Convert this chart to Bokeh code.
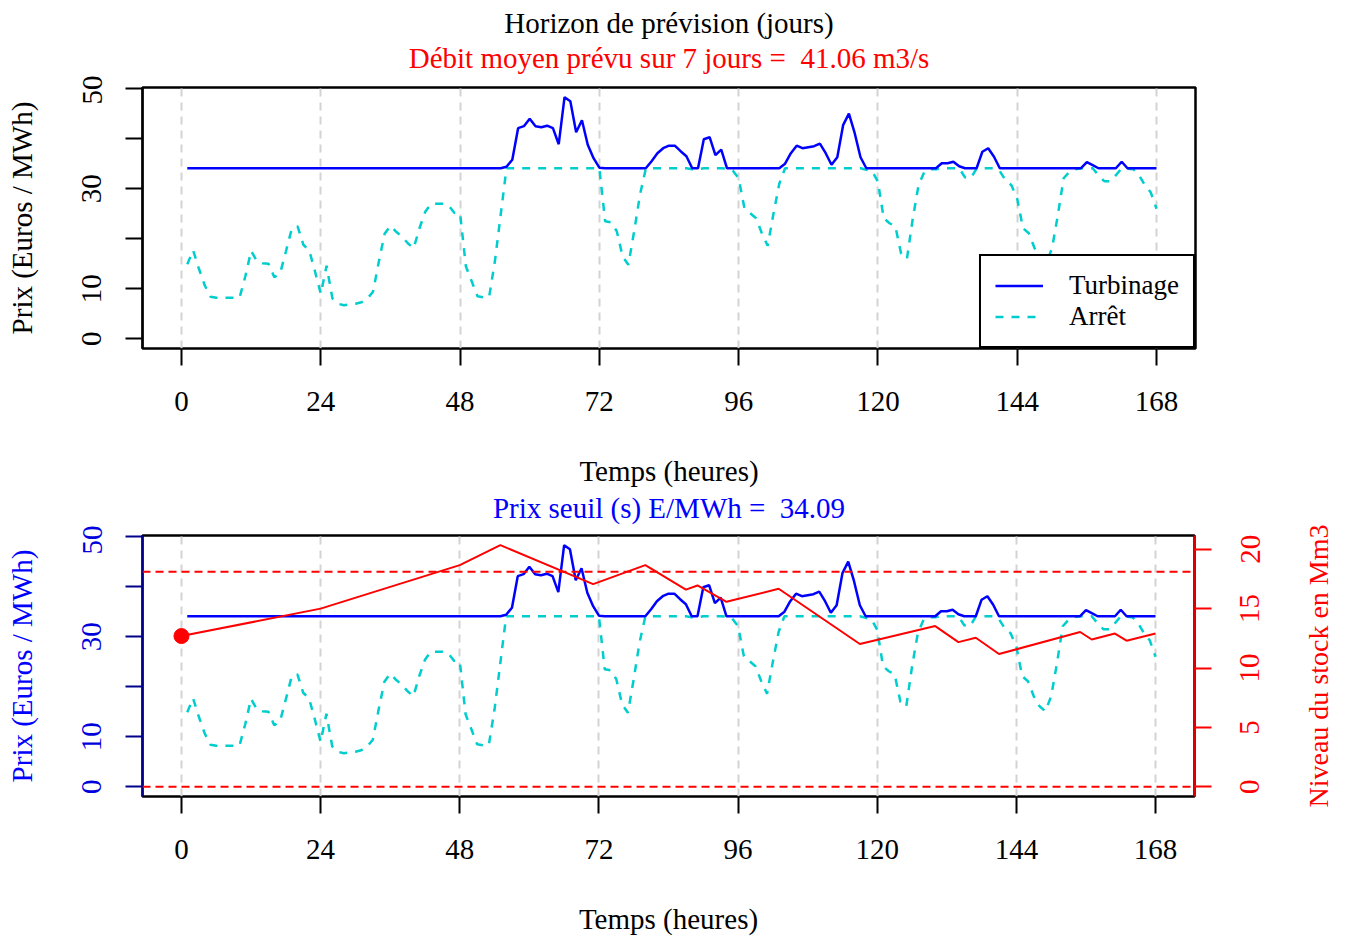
import numpy as np
from bokeh.plotting import figure
from bokeh.models import (Range1d, LinearAxis, Legend, LegendItem, FixedTicker, Span, Title,
                          CustomLabelingPolicy)
from bokeh.core.properties import value
from bokeh.layouts import column, row
from bokeh.embed import file_html
from bokeh.resources import INLINE

# ---------------- data ----------------
hours = list(range(1, 169))
price = [
    14.9, 17.7, 14.0, 10.7, 8.4, 8.2, 8.2, 8.2, 8.2, 8.2,
    12.5, 17.6, 15.5, 15.1, 15.0, 12.3, 13.1, 17.5, 22.0, 22.5,
    18.8, 17.7, 13.5, 9.0, 14.6, 8.1, 7.0, 6.7, 6.9, 7.0,
    7.3, 8.0, 9.4, 15.4, 21.0, 22.6, 21.4, 20.4, 19.1, 18.1,
    22.1, 25.4, 27.0, 27.0, 27.0, 26.7, 25.2, 25.1, 14.5, 11.5,
    8.5, 8.3, 8.3, 15.5, 24.8, 34.4, 35.8, 42.1, 42.5, 44.0,
    42.5, 42.3, 42.6, 42.1, 38.9, 48.3, 47.5, 41.3, 43.7, 38.8,
    36.1, 34.2, 23.5, 23.3, 21.5, 16.5, 14.8, 21.5, 28.8, 34.0,
    35.5, 37.1, 38.1, 38.6, 38.6, 37.5, 36.5, 33.9, 33.9, 39.9,
    40.3, 36.7, 37.8, 34.0, 33.6, 32.1, 26.1, 25.1, 24.1, 21.1,
    18.6, 25.0, 31.0, 35.0, 37.1, 38.6, 38.1, 38.3, 38.5, 39.0,
    37.1, 34.8, 36.3, 42.7, 45.0, 41.1, 36.3, 33.8, 33.5, 31.4,
    24.1, 23.1, 22.5, 17.0, 16.0, 24.0, 30.7, 33.4, 33.9, 33.9,
    35.1, 35.1, 35.4, 34.5, 32.3, 32.1, 34.0, 37.4, 38.1, 36.4,
    33.5, 31.7, 30.7, 28.0, 22.1, 21.1, 18.1, 16.1, 15.1, 18.1,
    24.7, 32.1, 33.4, 33.9, 34.1, 35.3, 34.7, 32.7, 31.5, 31.5,
    32.7, 35.4, 34.0, 33.9, 32.7, 30.7, 29.3, 26.0,
]
threshold = 34.09
debit_moyen = 41.06

stock_hours = [0, 24, 48, 55, 71, 80, 87, 89, 94, 103, 117, 130, 134, 137, 141, 155, 157, 161, 163, 168]
stock_level = [12.69, 15.0, 18.66, 20.34, 17.06, 18.66, 16.6, 16.95, 15.57, 16.67,
               12.02, 13.53, 12.18, 12.55, 11.18, 13.03, 12.4, 12.9, 12.3, 12.9]
stock_upper = 18.1
stock_lower = 0.0

x_ticks = [0, 24, 48, 72, 96, 120, 144, 168]
price_ticks = [0, 10, 20, 30, 40, 50]
price_ticks_labelled = [0, 10, 30, 50]
stock_ticks = [0, 5, 10, 15, 20]

title_top = "Horizon de prévision (jours)"
subtitle_top = "Débit moyen prévu sur 7 jours = \u00a0%.2f m3/s" % debit_moyen
subtitle_bottom = "Prix seuil (s) E/MWh = \u00a0%.2f" % threshold
xlab = "Temps (heures)"
ylab = "Prix (Euros / MWh)"
ylab2 = "Niveau du stock en Mm3"

turbinage = np.maximum(np.array(price), threshold)
arret = np.minimum(np.array(price), threshold)

# ---------------- layout ----------------
FONT = "Liberation Serif"
FS = "29px"
W = 1347
FRAME_L, FRAME_R = 142, 1195
HEAD_H = 75
TOP_H, TOP_FT, TOP_FH = 450, 12, 261
BOT_H, BOT_FT, BOT_FH = 412, 10, 262
BOT_FB = BOT_H - BOT_FT - BOT_FH
P2_W = 1215          # bottom plot width (right axis ticks only)
TICKS_W = 80         # side plot holding the stock tick labels
LAB_W = W - P2_W - TICKS_W  # side plot holding the stock axis label

x_lo, x_hi = -0.04 * 168, 168 * 1.04
p_max = max(price)
p_lo, p_hi = -0.04 * p_max, p_max * 1.04
s_max = max(stock_level)
s_lo, s_hi = -0.04 * s_max, s_max * 1.04

RED = "#FF0000"
BLUE = "#0000FF"

keep_idx = [price_ticks.index(t) for t in price_ticks_labelled]
price_label_policy = dict(args={}, code="""
    const keep = %s;
    const result = new Set();
    for (const i of indices) { if (keep.includes(i)) result.add(i); }
    return result;
""" % keep_idx)


def base_fig(width, height, ftop, fh):
    p = figure(width=width, height=height, x_range=Range1d(x_lo, x_hi), y_range=Range1d(p_lo, p_hi),
               output_backend="svg", toolbar_location=None, title=None,
               min_border_left=FRAME_L, min_border_right=width - FRAME_R,
               min_border_top=ftop, min_border_bottom=height - ftop - fh)
    p.outline_line_color = "black"
    p.outline_line_width = 2.5
    p.outline_line_alpha = 1.0
    p.background_fill_color = "white"
    p.border_fill_color = "white"
    p.ygrid.grid_line_color = None
    p.xgrid.grid_line_color = "#D3D3D3"
    p.xgrid.grid_line_width = 2
    p.xgrid.grid_line_dash = "8 6"
    xa = p.xaxis[0]
    xa.ticker = FixedTicker(ticks=x_ticks)
    xa.axis_line_color = None
    xa.major_tick_out = 17
    xa.major_tick_in = 0
    xa.minor_tick_line_color = None
    xa.major_tick_line_width = 2
    xa.major_tick_line_color = "black"
    xa.major_label_text_font = FONT
    xa.major_label_text_font_size = FS
    xa.major_label_text_color = "black"
    xa.major_label_standoff = 26
    xa.axis_label = xlab
    xa.axis_label_text_font = FONT
    xa.axis_label_text_font_size = FS
    xa.axis_label_text_font_style = "normal"
    xa.axis_label_text_color = "black"
    xa.axis_label_standoff = 41
    ya = p.yaxis[0]
    ya.ticker = FixedTicker(ticks=price_ticks)
    ya.major_label_policy = CustomLabelingPolicy(**price_label_policy)
    ya.axis_line_width = 2
    ya.major_tick_out = 17
    ya.major_tick_in = 0
    ya.minor_tick_line_color = None
    ya.major_tick_line_width = 2
    ya.major_tick_line_color = "black"
    ya.major_label_orientation = "vertical"
    ya.major_label_text_font = FONT
    ya.major_label_text_font_size = FS
    ya.major_label_text_color = "black"
    ya.major_label_standoff = 24
    ya.axis_label = ylab
    ya.axis_label_text_font = FONT
    ya.axis_label_text_font_size = FS
    ya.axis_label_text_font_style = "normal"
    ya.axis_label_standoff = 42
    return p


def side_fig(width, frame_left, yrange):
    f = figure(width=width, height=BOT_H, x_range=Range1d(0, 1), y_range=yrange,
               output_backend="svg", toolbar_location=None, title=None,
               x_axis_location=None, y_axis_location="left",
               min_border_left=frame_left, min_border_right=width - frame_left - 1,
               min_border_top=BOT_FT, min_border_bottom=BOT_FB)
    f.grid.visible = False
    f.outline_line_color = None
    f.background_fill_color = "white"
    f.border_fill_color = "white"
    a = f.yaxis[0]
    a.axis_line_color = None
    a.major_tick_line_color = None
    a.minor_tick_line_color = None
    a.major_tick_out = 0
    a.major_tick_in = 0
    return f


# ---------------- header (titles) ----------------
head = figure(width=W, height=HEAD_H, x_range=Range1d(FRAME_L, FRAME_R), y_range=Range1d(HEAD_H, 0),
              output_backend="svg", toolbar_location=None, title=None,
              min_border_left=FRAME_L, min_border_right=W - FRAME_R, min_border_top=0, min_border_bottom=0,
              x_axis_location=None, y_axis_location=None)
head.grid.visible = False
head.outline_line_color = None
for txt, yy, col in ((title_top, 22, "black"), (subtitle_top, 57, RED)):
    head.text(x=[(FRAME_L + FRAME_R) / 2], y=[yy], text=[txt], text_font=value(FONT),
              text_font_size=value(FS), text_color=col, text_align="center", text_baseline="middle")

# ---------------- top panel ----------------
p1 = base_fig(W, TOP_H, TOP_FT, TOP_FH)
p1.yaxis[0].axis_line_color = "black"
p1.yaxis[0].axis_label_text_color = "black"
r_arret = p1.line(hours, arret, line_color="#00CDCD", line_width=2.5, line_dash="8 8")
r_turb = p1.line(hours, turbinage, line_color=BLUE, line_width=2.5)
leg = Legend(items=[LegendItem(label="Turbinage", renderers=[r_turb]),
                    LegendItem(label="Arrêt", renderers=[r_arret])],
             location="bottom_right", margin=0, padding=14, spacing=0,
             glyph_width=48, glyph_height=31, label_height=31, label_standoff=26,
             label_text_font=FONT, label_text_font_size="27px", label_text_color="black",
             border_line_color="black", border_line_width=2, border_line_alpha=1.0,
             background_fill_color="white", background_fill_alpha=1.0)
p1.add_layout(leg, "center")
p1.add_layout(Title(text=subtitle_bottom, align="center", text_font=FONT, text_font_size=FS,
                    text_font_style="normal", text_color=BLUE, standoff=0, offset=0), "below")

# ---------------- bottom panel ----------------
p2 = base_fig(P2_W, BOT_H, BOT_FT, BOT_FH)
p2.extra_y_ranges = {"stock": Range1d(s_lo, s_hi)}
ya = p2.yaxis[0]
ya.axis_line_color = "#00008B"
ya.major_tick_line_color = "#00008B"
ya.major_label_text_color = "#0000DD"
ya.axis_label_text_color = BLUE

ra = LinearAxis(y_range_name="stock", ticker=FixedTicker(ticks=stock_ticks))
ra.axis_line_color = "#DD0000"
ra.axis_line_width = 2
ra.major_tick_out = 17
ra.major_tick_in = 0
ra.minor_tick_line_color = None
ra.major_tick_line_width = 2
ra.major_tick_line_color = RED
ra.major_label_policy = CustomLabelingPolicy(args={}, code="return new Set();")
ra.major_label_text_font_size = "1px"
ra.major_label_standoff = 0
p2.add_layout(ra, "right")

p2.line(hours, arret, line_color="#00CDCD", line_width=2.5, line_dash="8 8")
p2.line(hours, turbinage, line_color=BLUE, line_width=2.5)
for lvl in (stock_upper, stock_lower):
    p2.add_layout(Span(location=lvl, dimension="width", y_range_name="stock",
                       line_color=RED, line_width=2, line_dash="8 5"))
p2.line(stock_hours, stock_level, y_range_name="stock", line_color=RED, line_width=2)
p2.scatter([stock_hours[0]], [stock_level[0]], y_range_name="stock", size=15,
           fill_color=RED, line_color=RED)

# stock tick labels (left axis of a narrow side plot sharing the stock range)
side_ticks = side_fig(TICKS_W, 60, Range1d(s_lo, s_hi))
sa = side_ticks.yaxis[0]
sa.ticker = FixedTicker(ticks=stock_ticks)
sa.major_label_orientation = "vertical"
sa.major_label_text_font = FONT
sa.major_label_text_font_size = FS
sa.major_label_text_color = RED
sa.major_label_standoff = 16

# stock axis title
side_lab = side_fig(LAB_W, LAB_W - 13, Range1d(s_lo, s_hi))
la = side_lab.yaxis[0]
la.ticker = FixedTicker(ticks=[])
la.major_label_standoff = 0
la.axis_label = ylab2
la.axis_label_text_font = FONT
la.axis_label_text_font_size = "28px"
la.axis_label_text_font_style = "normal"
la.axis_label_text_color = RED
la.axis_label_standoff = 1

layout = column(head, p1, row(p2, side_ticks, side_lab))
open("out.html", "w").write(file_html(layout, INLINE))
